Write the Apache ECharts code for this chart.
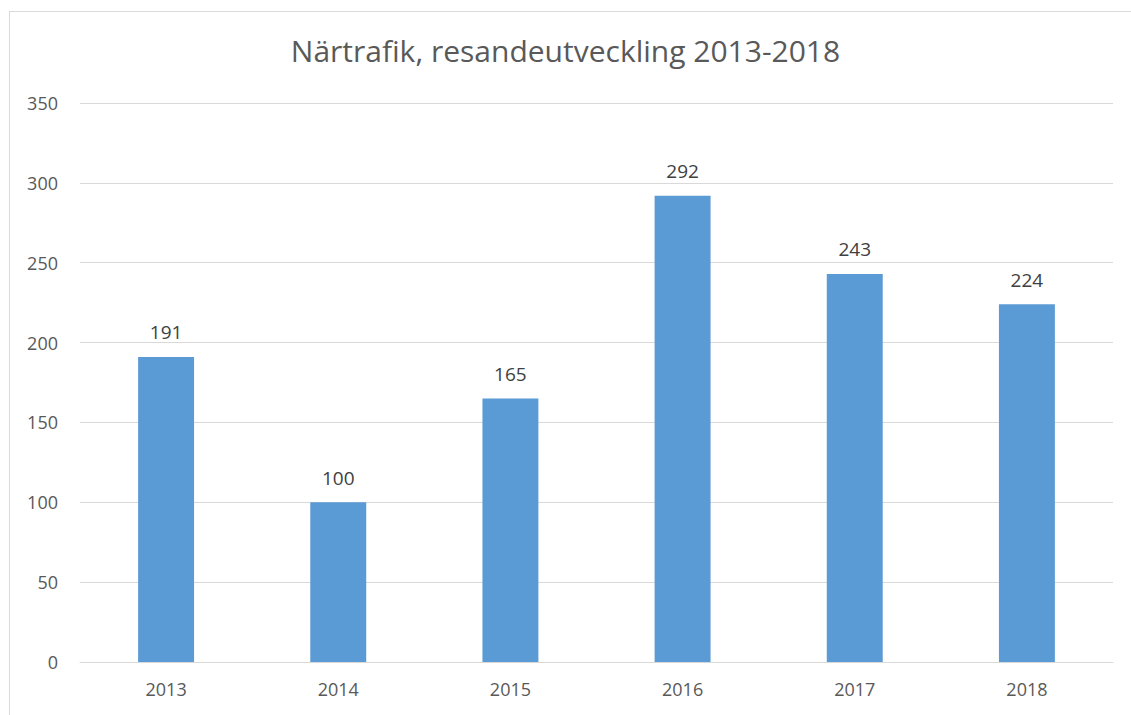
<!DOCTYPE html>
<html>
<head>
<meta charset="utf-8">
<script src="https://cdn.jsdelivr.net/npm/echarts@6/dist/echarts.min.js"></script>
<style>
  html, body { margin: 0; padding: 0; background: #fff; }
  #frame { position: absolute; left: 9px; top: 11px; width: 1140px; height: 720px; border: 1px solid #d9d9d9; }
  #chart { position: absolute; left: 0; top: 0; width: 1131px; height: 715px; }
</style>
</head>
<body>
<div id="frame"></div>
<div id="chart"></div>
<script>
var years = ['2013', '2014', '2015', '2016', '2017', '2018'];
var travellers = [191, 100, 165, 292, 243, 224];
var yTicks = [0, 50, 100, 150, 200, 250, 300, 350];

(function() {
  var fontFam = '"Open Sans", "Liberation Sans", sans-serif';
  var chart = echarts.init(document.getElementById('chart'), null, { renderer: 'svg' });
  chart.setOption({
    animation: false,
    title: {
      text: 'Närtrafik, resandeutveckling 2013-2018',
      left: 'center',
      top: 30,
      textStyle: { color: '#595959', fontSize: 30, fontWeight: 'normal', fontFamily: fontFam }
    },
    grid: { left: 80, right: 18, top: 103, bottom: 53 },
    xAxis: {
      type: 'category',
      data: years,
      axisLine: { lineStyle: { color: '#d9d9d9', width: 1 } },
      axisTick: { show: false },
      axisLabel: { color: '#595959', fontSize: 18, margin: 18, fontFamily: fontFam }
    },
    yAxis: {
      type: 'value',
      min: yTicks[0],
      max: yTicks[yTicks.length - 1],
      interval: 50,
      axisLine: { show: false },
      axisTick: { show: false },
      axisLabel: { color: '#595959', fontSize: 18, margin: 22, fontFamily: fontFam },
      splitLine: { lineStyle: { color: '#d9d9d9', width: 1 } }
    },
    series: [{
      type: 'bar',
      data: travellers,
      barWidth: '32.5%',
      itemStyle: { color: '#5b9bd5' },
      label: {
        show: true,
        position: 'top',
        distance: 15,
        color: '#404040',
        fontSize: 19,
        fontFamily: fontFam
      }
    }]
  });
})();
</script>
</body>
</html>
